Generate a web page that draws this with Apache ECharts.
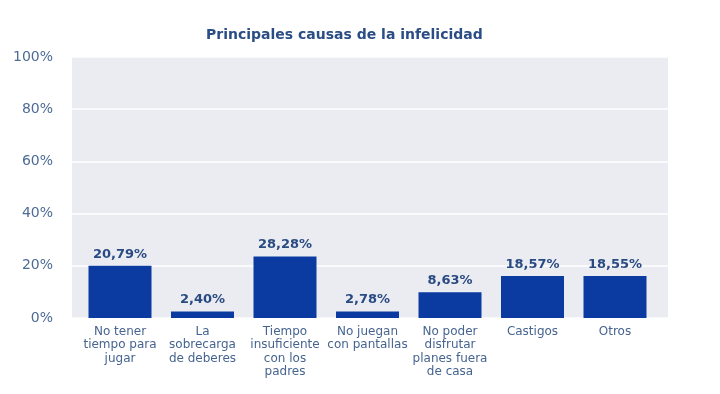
<!DOCTYPE html>
<html>
<head>
<meta charset="utf-8">
<script src="https://cdn.jsdelivr.net/npm/echarts@6/dist/echarts.min.js"></script>
<style>html,body{margin:0;padding:0;background:#fff}#c{width:720px;height:394px}</style>
</head>
<body>
<div id="c"></div>
<script>
var categories = ['No tener\ntiempo para\njugar', 'La\nsobrecarga\nde deberes', 'Tiempo\ninsuficiente\ncon los\npadres', 'No juegan\ncon pantallas', 'No poder\ndisfrutar\nplanes fuera\nde casa', 'Castigos', 'Otros'];
// printed percentages
var values = [20.79, 2.40, 28.28, 2.78, 8.63, 18.57, 18.55];
// bar heights as drawn in the reference
var barHeights = [20.0, 2.5, 23.6, 2.5, 9.9, 16.1, 16.1];
var yTicks = [0, 20, 40, 60, 80, 100];

var textColor = '#46648f';
var chart = echarts.init(document.getElementById('c'));
chart.setOption({
  animation: false,
  title: {
    text: 'Principales causas de la infelicidad',
    left: 201, top: 23,
    textStyle: {fontFamily: 'DejaVu Sans', fontSize: 14, fontWeight: 'bold', color: '#2b4d86'}
  },
  grid: [
    {left: 72, right: 52, top: 57, height: 261, show: true, backgroundColor: '#eaecf2', borderWidth: 0},
    {left: 78.75, right: 63.75, top: 57, height: 261}
  ],
  xAxis: [
    {gridIndex: 0, type: 'category', data: categories, show: false},
    {gridIndex: 1, type: 'category', data: categories,
      axisLine: {show: false}, axisTick: {show: false},
      axisLabel: {interval: 0, margin: 7, color: textColor, fontFamily: 'DejaVu Sans', fontSize: 12, lineHeight: 13.4}}
  ],
  yAxis: [
    {gridIndex: 0, type: 'value', min: yTicks[0], max: yTicks[yTicks.length - 1], interval: 20,
      axisLine: {show: false}, axisTick: {show: false},
      splitLine: {lineStyle: {color: '#ffffff', width: 1.5}},
      axisLabel: {margin: 19, color: '#4d6b96', fontFamily: 'DejaVu Sans', fontSize: 14,
        formatter: function (v) { return v + '%'; }}},
    {gridIndex: 1, type: 'value', min: yTicks[0], max: yTicks[yTicks.length - 1], show: false}
  ],
  series: [{
    type: 'bar', xAxisIndex: 1, yAxisIndex: 1,
    data: barHeights, barWidth: 63,
    itemStyle: {color: '#0b3ba0'},
    label: {show: true, position: 'top', distance: 5, color: '#2a4a82',
      fontFamily: 'DejaVu Sans', fontSize: 13, fontWeight: 'bold',
      formatter: function (p) { return values[p.dataIndex].toFixed(2).replace('.', ',') + '%'; }}
  }]
});
</script>
</body>
</html>
